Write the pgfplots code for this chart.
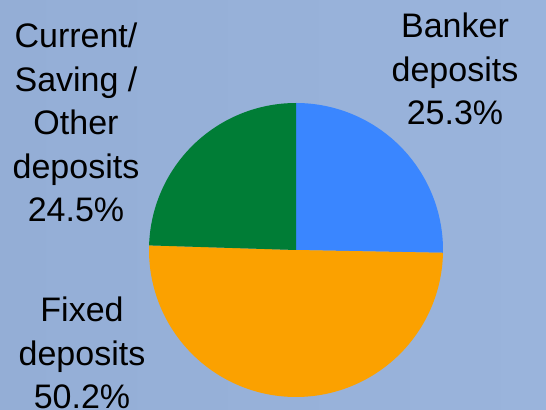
\documentclass[border=0pt]{standalone}
\usepackage{pgfplots}
\usepackage{pgfplotstable}
\pgfplotsset{compat=1.18}
\usepackage{fontspec}
\setmainfont{Liberation Sans}
\definecolor{bgA}{RGB}{148,174,214}
\definecolor{bgB}{RGB}{154,180,220}
\definecolor{pieblue}{RGB}{58,134,255}
\definecolor{pieorange}{RGB}{251,161,0}
\definecolor{piegreen}{RGB}{0,125,54}
\pgfplotstableread{
label value
Banker 25.3
Fixed 50.2
Current 24.5
}\piedata
\begin{document}
\begin{tikzpicture}
\pgfplotstablegetelem{0}{value}\of\piedata \pgfmathsetmacro{\va}{\pgfplotsretval}
\pgfplotstablegetelem{1}{value}\of\piedata \pgfmathsetmacro{\vb}{\pgfplotsretval}
\pgfplotstablegetelem{2}{value}\of\piedata \pgfmathsetmacro{\vc}{\pgfplotsretval}
\pgfmathsetmacro{\aA}{90}
\pgfmathsetmacro{\aB}{90-3.6*\va}
\pgfmathsetmacro{\aC}{\aB-3.6*\vb}
\pgfmathsetmacro{\aD}{\aC-3.6*\vc}
\shade[left color=bgA, right color=bgB] (0,0) rectangle (546pt,409pt);
\begin{axis}[
  x=1pt, y=1pt, scale only axis,
  xmin=0, xmax=546, ymin=0, ymax=409,
  hide axis, clip=false,
  anchor=south west, at={(0,0)},
]
\addplot[fill=pieblue, draw=none, domain=\aB:\aA, samples=120, variable=\t]
  ({296+147*cos(t)},{159+147*sin(t)}) -- (296,159) -- cycle;
\addplot[fill=pieorange, draw=none, domain=\aC:\aB, samples=200, variable=\t]
  ({296+147*cos(t)},{159+147*sin(t)}) -- (296,159) -- cycle;
\addplot[fill=piegreen, draw=none, domain=\aD:\aC, samples=120, variable=\t]
  ({296+147*cos(t)},{159+147*sin(t)}) -- (296,159) -- cycle;
\node[anchor=north, align=center, inner sep=0pt, font=\fontsize{34}{43.5}\selectfont]
  at (axis cs:455,396) {Banker\\deposits\\25.3\%};
\node[anchor=north, align=center, inner sep=0pt, font=\fontsize{34}{43.5}\selectfont]
  at (axis cs:76,386) {Current/\\Saving /\\Other\\deposits\\24.5\%};
\node[anchor=north, align=center, inner sep=0pt, font=\fontsize{34}{43.5}\selectfont]
  at (axis cs:82,112) {Fixed\\deposits\\50.2\%};
\end{axis}
\end{tikzpicture}
\end{document}
